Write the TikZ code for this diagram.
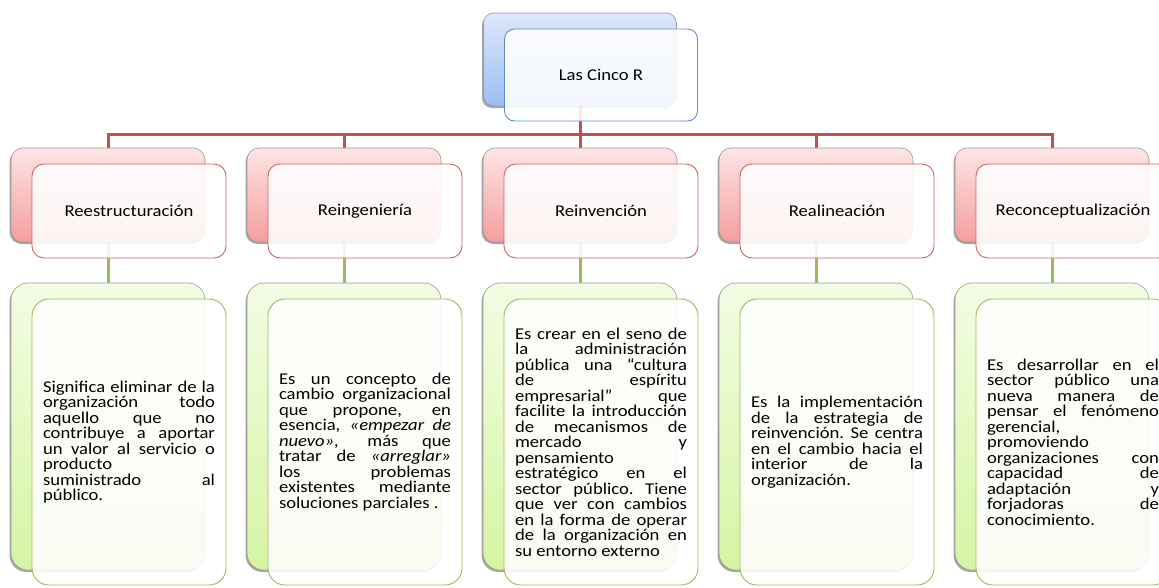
\documentclass[tikz,border=0pt]{standalone}
\usepackage{fontspec}
\setmainfont{Carlito}[FakeStretch=1.13]
\usetikzlibrary{shadows}

\definecolor{blueTop}{HTML}{DDE8FB}
\definecolor{blueBot}{HTML}{9CBDF5}
\definecolor{blueEdge}{HTML}{5F8CCB}
\definecolor{redTop}{HTML}{FEE4E4}
\definecolor{redBot}{HTML}{F59E9E}
\definecolor{redEdge}{HTML}{D0625F}
\definecolor{redLine}{HTML}{C0504D}
\definecolor{greenTop}{HTML}{F3FCE4}
\definecolor{greenBot}{HTML}{D6F5A3}
\definecolor{greenEdge}{HTML}{9BBB59}
\definecolor{boxGray}{HTML}{9A9A9A}

\pgfdeclarelayer{background}
\pgfsetlayers{background,main}

% body font and line-by-line justification (Word-style line breaks)
\newcommand\bodyfont{\fontsize{16.5pt}{15.5pt}\selectfont}
\newcommand\jtext[1]{\lineskiplimit=-50pt\relax\parindent=0pt\relax
  \leftskip=0pt\relax\rightskip=0pt\relax
  \spaceskip=\fontdimen2\font plus 1fil minus 1pt\relax
  \xspaceskip=\spaceskip
  \parfillskip=0pt plus 1fill\relax
  \hyphenpenalty=10000\relax\exhyphenpenalty=10000\relax
  \tolerance=10000\relax\hbadness=10000\relax
  \noindent #1\par}
\newcommand\nl{\unskip\break}

\tikzset{
  backbox/.style={shape=rectangle, draw=boxGray, line width=0.6pt,
    drop shadow={shadow xshift=-1.5pt, shadow yshift=-2pt, opacity=0.35, fill=black},
    minimum width=194pt, inner sep=0pt},
  frontbox/.style={shape=rectangle, fill=white, fill opacity=0.88, text opacity=1,
    line width=0.9pt, minimum width=194pt, inner sep=0pt, font=\bodyfont},
  topback/.style={backbox, rounded corners=10pt, minimum width=193pt, minimum height=93pt,
    top color=blueTop, bottom color=blueBot},
  topfront/.style={frontbox, rounded corners=10pt, minimum width=193pt, minimum height=92pt,
    draw=blueEdge},
  headback/.style={backbox, rounded corners=12pt, minimum height=94pt,
    top color=redTop, bottom color=redBot},
  headfront/.style={frontbox, rounded corners=12pt, minimum height=94pt, draw=redEdge},
  textback/.style={backbox, rounded corners=17pt, minimum height=287pt,
    top color=greenTop, bottom color=greenBot},
  textfront/.style={frontbox, rounded corners=17pt, minimum height=286pt, draw=greenEdge,
    text width=172pt, inner xsep=11pt, align=justify},
  redcon/.style={draw=redLine, line width=3pt},
  greencon/.style={draw=greenEdge, line width=3pt}
}

\begin{document}
\begin{tikzpicture}[x=1pt, y=-1pt]
\useasboundingbox (0,0) rectangle (1159,587);

% root
\node[topback] (tb) at (580,59.5) {};
\node[topfront] (tf) at (601,75) {Las Cinco R};

% the five R headings
\node[headback] (hb1) at (108,195) {};
\node[headfront] (hf1) at (129,211) {Reestructuración};
\node[headback] (hb2) at (344,195) {};
\node[headfront] (hf2) at (365,211) {Reingeniería};
\node[headback] (hb3) at (580,195) {};
\node[headfront] (hf3) at (601,211) {Reinvención};
\node[headback] (hb4) at (816,195) {};
\node[headfront] (hf4) at (837,211) {Realineación};
\node[headback] (hb5) at (1052,195) {};
\node[headfront] (hf5) at (1073,211) {Reconceptualización};

% descriptions
\node[textback] (tb1) at (108,426.5) {};
\node[textfront] (tf1) at (129,442) {\jtext{%
Significa eliminar de la\nl
organización todo\nl
aquello que no\nl
contribuye a aportar\nl
un valor al servicio o\nl
producto\nl
suministrado al\nl
público.}};

\node[textback] (tb2) at (344,426.5) {};
\node[textfront] (tf2) at (365,442) {\jtext{%
Es un concepto de\nl
cambio organizacional\nl
que propone, en\nl
esencia, \textit{«empezar de\nl
nuevo»,} más que\nl
tratar de \textit{«arreglar»}\nl
los problemas\nl
existentes mediante\nl
soluciones parciales .}};

\node[textback] (tb3) at (580,426.5) {};
\node[textfront] (tf3) at (601,442) {\jtext{%
Es crear en el seno de\nl
la administración\nl
pública una “cultura\nl
de espíritu\nl
empresarial” que\nl
facilite la introducción\nl
de mecanismos de\nl
mercado y\nl
pensamiento\nl
estratégico en el\nl
sector público. Tiene\nl
que ver con cambios\nl
en la forma de operar\nl
de la organización en\nl
su entorno externo}};

\node[textback] (tb4) at (816,426.5) {};
\node[textfront] (tf4) at (837,442) {\jtext{%
Es la implementación\nl
de la estrategia de\nl
reinvención. Se centra\nl
en el cambio hacia el\nl
interior de la\nl
organización.}};

\node[textback] (tb5) at (1052,426.5) {};
\node[textfront] (tf5) at (1073,442) {\jtext{%
Es desarrollar en el\nl
sector público una\nl
nueva manera de\nl
pensar el fenómeno\nl
gerencial,\nl
promoviendo\nl
organizaciones con\nl
capacidad de\nl
adaptación y\nl
forjadoras de\nl
conocimiento.}};

% connectors behind the boxes
\begin{pgfonlayer}{background}
  \foreach \i in {1,...,5} {
    \draw[redcon] (tb.south) -- ++(0,28) -| (hb\i.north);
    \draw[greencon] (hb\i.south) -- (tb\i.north);
  }
\end{pgfonlayer}
\end{tikzpicture}
\end{document}
